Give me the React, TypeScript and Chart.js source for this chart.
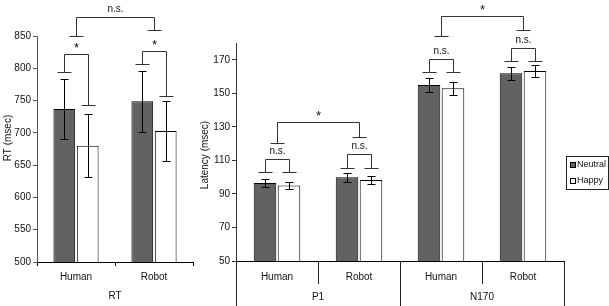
import React, { useEffect, useRef } from 'react';
import Chart from 'chart.js/auto';

const FONT = "'Liberation Sans', Arial, Helvetica, sans-serif";

// ---------- RT panel data ----------
const rtCategories = ['Human', 'Robot'];
const rtNeutral = [737, 749];
const rtHappy = [680, 703];
const rtNeutralErr = [47, 47];
const rtHappyErr = [49, 47];
const rtTicks = [500, 550, 600, 650, 700, 750, 800, 850];
// brackets: a/b = [datasetIndex, categoryIndex]; datasetIndex -1 = category centre
const rtBrackets = [
  { a: [0, 0], b: [1, 0], footA: 795, footB: 743, top: 822, label: '*' },
  { a: [0, 1], b: [1, 1], footA: 807, footB: 757, top: 827, label: '*' },
  { a: [-1, 0], b: [-1, 1], footA: 850, footB: 860, top: 880, label: 'n.s.' },
];

// ---------- ERP panel data ----------
const erpCategories = ['Human', 'Robot', 'Human', 'Robot'];
const erpGroups = [
  { label: 'P1', from: 0, to: 1 },
  { label: 'N170', from: 2, to: 3 },
];
const erpNeutral = [96.5, 100, 155, 162];
const erpHappy = [95, 98.3, 153, 163.3];
const erpNeutralErr = [2.4, 2.6, 4.2, 3.8];
const erpHappyErr = [2, 2.6, 4, 3.7];
const erpTicks = [50, 70, 90, 110, 130, 150, 170];
const erpBrackets = [
  { a: [0, 0], b: [1, 0], footA: 102.9, footB: 102.9, top: 110.8, label: 'n.s.' },
  { a: [0, 1], b: [1, 1], footA: 105.7, footB: 105.7, top: 113.8, label: 'n.s.' },
  { a: [-1, 0], b: [-1, 1], footA: 120.3, footB: 124.1, top: 132.6, label: '*' },
  { a: [0, 2], b: [1, 2], footA: 162.7, footB: 162.7, top: 170.2, label: 'n.s.' },
  { a: [0, 3], b: [1, 3], footA: 169.2, footB: 169.2, top: 177.3, label: 'n.s.' },
  { a: [-1, 2], b: [-1, 3], footA: 184.1, footB: 188, top: 196.1, label: '*' },
];

const seriesLabels = ['Neutral', 'Happy'];
const NEUTRAL_COLOR = '#626262';
const HAPPY_COLOR = '#ffffff';

const crisp = (v: number) => Math.round(v) + 0.5;

const errorBarPlugin = {
  id: 'errorBars',
  afterDatasetsDraw(chart: any) {
    const { ctx } = chart;
    const ys = chart.scales.y;
    ctx.save();
    ctx.strokeStyle = '#000';
    ctx.lineWidth = 1;
    chart.data.datasets.forEach((ds: any, i: number) => {
      const meta = chart.getDatasetMeta(i);
      meta.data.forEach((el: any, j: number) => {
        const v = ds.data[j];
        const e = ds.errors[j];
        const x = crisp(el.x);
        const yt = crisp(ys.getPixelForValue(v + e));
        const yb = crisp(ys.getPixelForValue(v - e));
        ctx.beginPath();
        ctx.moveTo(x, yt);
        ctx.lineTo(x, yb);
        ctx.moveTo(x - 4, yt);
        ctx.lineTo(x + 4, yt);
        ctx.moveTo(x - 4, yb);
        ctx.lineTo(x + 4, yb);
        ctx.stroke();
      });
    });
    ctx.restore();
  },
};

const bracketPlugin = {
  id: 'brackets',
  afterDatasetsDraw(chart: any, _args: any, opts: any) {
    const items = opts.items || [];
    const { ctx } = chart;
    const ys = chart.scales.y;
    const xs = chart.scales.x;
    const getX = (p: number[]) =>
      p[0] < 0 ? xs.getPixelForValue(p[1]) : chart.getDatasetMeta(p[0]).data[p[1]].x;
    ctx.save();
    ctx.strokeStyle = '#333';
    ctx.lineWidth = 1;
    items.forEach((b: any) => {
      const x1 = crisp(getX(b.a));
      const x2 = crisp(getX(b.b));
      const f1 = crisp(ys.getPixelForValue(b.footA));
      const f2 = crisp(ys.getPixelForValue(b.footB));
      const t = crisp(ys.getPixelForValue(b.top));
      ctx.beginPath();
      ctx.moveTo(x1 - 7, f1);
      ctx.lineTo(x1 + 7, f1);
      ctx.moveTo(x1, f1);
      ctx.lineTo(x1, t);
      ctx.lineTo(x2, t);
      ctx.lineTo(x2, f2);
      ctx.moveTo(x2 - 7, f2);
      ctx.lineTo(x2 + 7, f2);
      ctx.stroke();
      ctx.fillStyle = '#111';
      ctx.textAlign = 'center';
      ctx.textBaseline = 'alphabetic';
      if (b.label === '*') {
        ctx.font = `13px ${FONT}`;
        ctx.fillText('*', (x1 + x2) / 2, t - 3);
      } else {
        ctx.font = `10px ${FONT}`;
        ctx.fillText(b.label, (x1 + x2) / 2, t - 6);
      }
    });
    ctx.restore();
  },
};

const decorPlugin = {
  id: 'decor',
  afterDraw(chart: any, _args: any, opts: any) {
    const { ctx, chartArea } = chart;
    const xs = chart.scales.x;
    ctx.save();
    // y title
    if (opts.yTitle) {
      ctx.save();
      ctx.translate(opts.yTitle.x, opts.yTitle.y);
      ctx.rotate(-Math.PI / 2);
      ctx.font = `10px ${FONT}`;
      ctx.fillStyle = '#111';
      ctx.textAlign = 'center';
      ctx.textBaseline = 'middle';
      ctx.fillText(opts.yTitle.text, 0, 0);
      ctx.restore();
    }
    // group labels
    ctx.font = `10px ${FONT}`;
    ctx.fillStyle = '#111';
    ctx.textAlign = 'center';
    ctx.textBaseline = 'middle';
    (opts.groups || []).forEach((g: any) => {
      const cx = (xs.getPixelForValue(g.from) + xs.getPixelForValue(g.to)) / 2;
      ctx.fillText(g.label, cx, opts.groupY);
    });
    // dividers
    if (opts.dividers) {
      const n = xs.getLabels().length;
      const bounds: number[] = [chartArea.left];
      for (let i = 0; i < n - 1; i++) {
        bounds.push((xs.getPixelForValue(i) + xs.getPixelForValue(i + 1)) / 2);
      }
      bounds.push(chartArea.right);
      ctx.strokeStyle = '#222';
      ctx.lineWidth = 1;
      ctx.beginPath();
      bounds.forEach((bx, i) => {
        const x = crisp(bx);
        const long = i % 2 === 0;
        ctx.moveTo(x, chartArea.bottom);
        ctx.lineTo(x, long ? chart.height : opts.shortDividerY);
      });
      ctx.stroke();
    }
    // legend
    if (opts.legend) {
      const L = opts.legend;
      ctx.strokeStyle = '#222';
      ctx.lineWidth = 1;
      ctx.fillStyle = '#fff';
      ctx.fillRect(L.x, L.y, L.w, L.h);
      ctx.strokeRect(crisp(L.x), crisp(L.y), L.w, L.h);
      chart.data.datasets.forEach((ds: any, i: number) => {
        const cy = L.y + 8.5 + i * 16.5;
        ctx.fillStyle = ds.backgroundColor;
        ctx.fillRect(L.x + 4.5, Math.round(cy - 3) + 0.5, 5, 5);
        ctx.strokeStyle = '#000';
        ctx.strokeRect(L.x + 4.5, Math.round(cy - 3) + 0.5, 5, 5);
        ctx.fillStyle = '#111';
        ctx.textAlign = 'left';
        ctx.textBaseline = 'middle';
        ctx.font = `9px ${FONT}`;
        ctx.fillText(ds.label, L.x + 11, cy);
      });
    }
    ctx.restore();
  },
};

function makeDatasets(neutral: number[], happy: number[], nErr: number[], hErr: number[], catPct: number, barPct: number) {
  return [
    {
      label: seriesLabels[0],
      data: neutral,
      errors: nErr,
      backgroundColor: NEUTRAL_COLOR,
      borderColor: '#000',
      borderWidth: 1,
      borderSkipped: false,
      categoryPercentage: catPct,
      barPercentage: barPct,
    },
    {
      label: seriesLabels[1],
      data: happy,
      errors: hErr,
      backgroundColor: HAPPY_COLOR,
      borderColor: '#000',
      borderWidth: 1,
      borderSkipped: false,
      categoryPercentage: catPct,
      barPercentage: barPct,
    },
  ];
}

export default function App() {
  const rtRef = useRef<HTMLCanvasElement>(null);
  const erpRef = useRef<HTMLCanvasElement>(null);

  useEffect(() => {
    Chart.defaults.font.family = FONT;
    Chart.defaults.font.size = 10;
    Chart.defaults.color = '#111';

    const rt = new Chart(rtRef.current as HTMLCanvasElement, {
      type: 'bar',
      data: {
        labels: rtCategories,
        datasets: makeDatasets(rtNeutral, rtHappy, rtNeutralErr, rtHappyErr, 0.6, 0.93) as any,
      },
      options: {
        responsive: false,
        animation: false,
        maintainAspectRatio: false,
        layout: { padding: { top: 36, right: 7, bottom: 0, left: 0 } },
        plugins: {
          legend: { display: false },
          tooltip: { enabled: false },
          brackets: { items: rtBrackets },
          decor: {
            yTitle: { text: 'RT (msec)', x: 8, y: 138 },
            groups: [{ label: 'RT', from: 0, to: 1 }],
            groupY: 296,
          },
        } as any,
        scales: {
          x: {
            grid: { display: true, drawOnChartArea: false, drawTicks: true, tickLength: 4, color: '#000', offset: true },
            border: { display: true, color: '#000' },
            ticks: { padding: 5, autoSkip: false, maxRotation: 0, font: { size: 10 } },
            afterFit: (s: any) => { s.height = 44; },
          },
          y: {
            min: 500,
            max: 850,
            afterBuildTicks: (s: any) => { s.ticks = rtTicks.map((v) => ({ value: v })); },
            grid: { display: true, drawOnChartArea: false, drawTicks: true, tickLength: 4, color: '#555' },
            border: { display: true, color: '#555' },
            ticks: { padding: 2, font: { size: 10 } },
            afterFit: (s: any) => { s.width = 37; },
          },
        },
      } as any,
      plugins: [errorBarPlugin, bracketPlugin, decorPlugin],
    });

    const erp = new Chart(erpRef.current as HTMLCanvasElement, {
      type: 'bar',
      data: {
        labels: erpCategories,
        datasets: makeDatasets(erpNeutral, erpHappy, erpNeutralErr, erpHappyErr, 0.585, 0.94) as any,
      },
      options: {
        responsive: false,
        animation: false,
        maintainAspectRatio: false,
        layout: { padding: { top: 43, right: 45, bottom: 0, left: 0 } },
        plugins: {
          legend: { display: false },
          tooltip: { enabled: false },
          brackets: { items: erpBrackets },
          decor: {
            yTitle: { text: 'Latency (msec)', x: 5, y: 155 },
            groups: erpGroups,
            groupY: 297,
            dividers: true,
            shortDividerY: 284,
            legend: { x: 366, y: 156, w: 42, h: 33 },
          },
        } as any,
        scales: {
          x: {
            grid: { display: false, drawTicks: false },
            border: { display: true, color: '#000' },
            ticks: { padding: 10, autoSkip: false, maxRotation: 0, font: { size: 10 } },
            afterFit: (s: any) => { s.height = 45; },
          },
          y: {
            min: 50,
            max: 180,
            afterBuildTicks: (s: any) => { s.ticks = erpTicks.map((v) => ({ value: v })); },
            grid: { display: true, drawOnChartArea: false, drawTicks: true, tickLength: 4, color: '#333' },
            border: { display: true, color: '#333' },
            ticks: { padding: 2, font: { size: 10 } },
            afterFit: (s: any) => { s.width = 36; },
          },
        },
      } as any,
      plugins: [errorBarPlugin, bracketPlugin, decorPlugin],
    });

    return () => {
      rt.destroy();
      erp.destroy();
    };
  }, []);

  return (
    <div style={{ position: 'absolute', left: 0, top: 0, width: 609, height: 306, background: '#fff', overflow: 'hidden' }}>
      <canvas ref={rtRef} width={200} height={306} style={{ position: 'absolute', left: 0, top: 0, display: 'block' }} />
      <canvas ref={erpRef} width={409} height={306} style={{ position: 'absolute', left: 200, top: 0, display: 'block' }} />
    </div>
  );
}
